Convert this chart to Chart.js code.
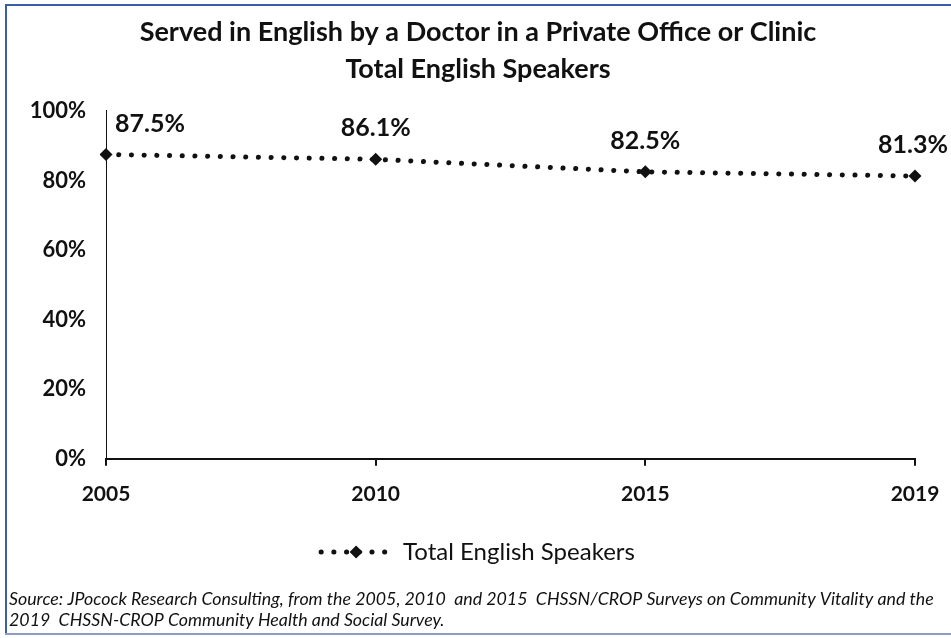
<!DOCTYPE html>
<html>
<head>
<meta charset="utf-8">
<script src="https://cdn.jsdelivr.net/npm/chart.js@4/dist/chart.umd.min.js"></script>
<style>
  html, body { margin: 0; padding: 0; background: #fff; }
  #wrap { width: 951px; height: 638px; position: relative; }
</style>
</head>
<body>
<div id="wrap"><canvas id="c" width="951" height="638"></canvas></div>
<script>
const years = ['2005', '2010', '2015', '2019'];
const totalEnglishSpeakers = [87.5, 86.1, 82.5, 81.3];
const seriesName = 'Total English Speakers';
const titleLines = ['Served in English by a Doctor in a Private Office or Clinic', 'Total English Speakers'];
const sourceLines = [
  'Source: JPocock Research Consulting, from the 2005, 2010  and 2015  CHSSN/CROP Surveys on Community Vitality and the',
  '2019  CHSSN-CROP Community Health and Social Survey.'
];
const FONT = 'Lato, "Noto Sans", sans-serif';
const INK = '#111';
const DASH = [0.1, 12.6];

const frame = {
  id: 'frame',
  beforeDraw(chart) {
    const c = chart.ctx;
    c.save();
    c.fillStyle = '#fff';
    c.fillRect(0, 0, chart.width, chart.height);
    c.fillStyle = '#3a5ea8';
    c.fillRect(5, 4, chart.width - 5, 2);
    c.fillRect(5, 4, 2, 631);
    c.fillStyle = '#8d9cc0';
    c.fillRect(5, 633, chart.width - 5, 2);
    c.restore();
  }
};

const dataLabels = {
  id: 'dataLabels',
  afterDatasetsDraw(chart) {
    const c = chart.ctx;
    const meta = chart.getDatasetMeta(0);
    const n = meta.data.length;
    c.save();
    c.font = 'bold 25px ' + FONT;
    c.fillStyle = INK;
    c.textBaseline = 'middle';
    meta.data.forEach((pt, i) => {
      const v = chart.data.datasets[0].data[i];
      let x = pt.x, align = 'center';
      if (i === 0) { x = pt.x + 9; align = 'left'; }
      else if (i === n - 1) { x = pt.x + 33; align = 'right'; }
      c.textAlign = align;
      c.fillText(v.toFixed(1) + '%', x, pt.y - 31);
    });
    c.restore();
  }
};

const legendDiamond = {
  id: 'legendDiamond',
  afterDraw(chart) {
    const lg = chart.legend;
    if (!lg || !lg.legendHitBoxes || !lg.legendHitBoxes.length) return;
    const hb = lg.legendHitBoxes[0];
    const bw = lg.options.labels.pointStyleWidth;
    const cx = hb.left + bw / 2;
    const cy = hb.top + hb.height / 2;
    const c = chart.ctx;
    const r = 6.5;
    c.save();
    c.fillStyle = INK;
    c.beginPath();
    c.moveTo(cx, cy - r); c.lineTo(cx + r, cy); c.lineTo(cx, cy + r); c.lineTo(cx - r, cy);
    c.closePath(); c.fill();
    c.restore();
  }
};

new Chart(document.getElementById('c'), {
  type: 'line',
  data: {
    labels: years,
    datasets: [{
      label: seriesName,
      data: totalEnglishSpeakers,
      borderColor: INK,
      backgroundColor: INK,
      borderWidth: 5,
      borderDash: DASH,
      borderCapStyle: 'round',
      pointStyle: 'rectRot',
      pointRadius: 6.5,
      pointBorderWidth: 0,
      pointBackgroundColor: INK,
      tension: 0,
      fill: false
    }]
  },
  options: {
    responsive: false,
    animation: false,
    devicePixelRatio: 1,
    layout: { padding: { left: 9, right: 4, top: 0, bottom: 7 } },
    plugins: {
      title: {
        display: true,
        text: titleLines,
        color: INK,
        font: { family: FONT, size: 27, weight: 'bold', lineHeight: 1.37 },
        padding: { top: 14, bottom: 23 }
      },
      subtitle: {
        display: true,
        position: 'bottom',
        align: 'start',
        text: sourceLines,
        color: INK,
        font: { family: FONT, size: 17.8, style: 'italic', lineHeight: 1.18 },
        padding: { top: 15, bottom: 0 }
      },
      legend: {
        display: true,
        position: 'bottom',
        labels: {
          color: INK,
          font: { family: FONT, size: 24 },
          usePointStyle: true,
          pointStyle: 'line',
          pointStyleWidth: 70,
          boxHeight: 24,
          padding: 8,
          generateLabels(chart) {
            const ds = chart.data.datasets[0];
            return [{
              text: ds.label,
              fillStyle: INK,
              strokeStyle: INK,
              fontColor: INK,
              lineWidth: 5,
              lineDash: DASH,
              lineCap: 'round',
              pointStyle: 'line',
              hidden: false,
              datasetIndex: 0
            }];
          }
        }
      },
      tooltip: { enabled: false }
    },
    scales: {
      x: {
        type: 'category',
        offset: false,
        grid: { display: true, drawOnChartArea: false, drawTicks: true, tickLength: 7, color: INK, lineWidth: 2 },
        border: { display: true, color: INK, width: 2 },
        ticks: { color: INK, font: { family: FONT, size: 21, weight: 'bold' }, padding: 16, maxRotation: 0, autoSkip: false },
        afterFit(scale) { scale.height = scale.height + 9; scale.paddingRight = 0; }
      },
      y: {
        min: 0,
        max: 100,
        grid: { display: false, drawTicks: false },
        border: { display: true, color: INK, width: 1 },
        ticks: {
          stepSize: 20,
          color: INK,
          font: { family: FONT, size: 22, weight: 'bold' },
          padding: 20,
          callback: v => v + '%'
        },
        afterFit(scale) { scale.width = 97; }
      },
      yPad: {
        position: 'right',
        display: true,
        grid: { display: false, drawTicks: false },
        border: { display: false },
        ticks: { display: false },
        afterFit(scale) { scale.width = 32; }
      }
    }
  },
  plugins: [frame, dataLabels, legendDiamond]
});
</script>
</body>
</html>
